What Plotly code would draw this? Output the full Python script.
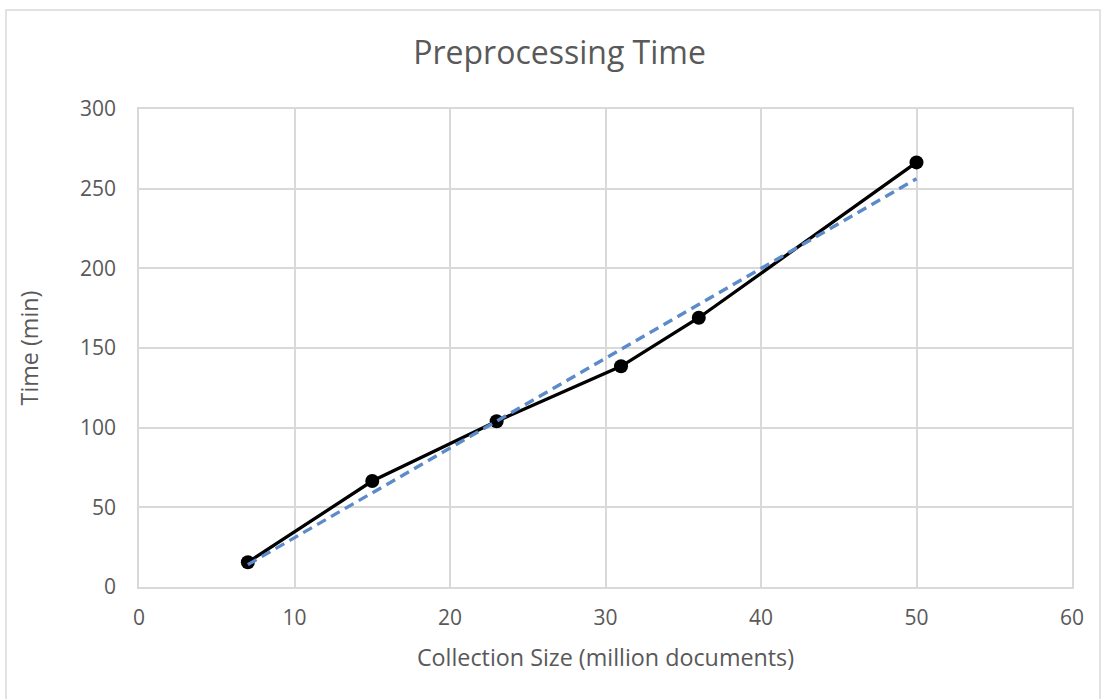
import numpy as np
import plotly.graph_objects as go

# Collection size (million documents) vs preprocessing time (minutes)
collection_size = [7, 15, 23, 31, 36, 50]
time_min = [15.5, 66.5, 104, 138.5, 169, 266.5]

x_ticks = [0, 10, 20, 30, 40, 50, 60]
y_ticks = [0, 50, 100, 150, 200, 250, 300]

# Linear trendline over the measured points
slope, intercept = np.polyfit(collection_size, time_min, 1)
trend_x = [collection_size[0], collection_size[-1]]
trend_y = [slope * v + intercept for v in trend_x]

FONT = "Open Sans, Liberation Sans, sans-serif"
TEXT = "#595959"
GRID = "#d9d9d9"

fig = go.Figure()
fig.add_trace(go.Scatter(
    x=collection_size, y=time_min, mode="lines+markers",
    line=dict(color="black", width=3.3),
    marker=dict(color="black", size=14),
    showlegend=False, hoverinfo="x+y",
))
fig.add_trace(go.Scatter(
    x=trend_x, y=trend_y, mode="lines",
    line=dict(color="#5b8bc8", width=3.3, dash="10px,6px"),
    showlegend=False, hoverinfo="skip",
))

fig.update_layout(
    width=1108, height=699,
    margin=dict(l=139, r=36, t=109, b=112),
    paper_bgcolor="white", plot_bgcolor="white",
    font=dict(family=FONT, color=TEXT, size=21),
    title=dict(text="Preprocessing Time", x=0.505, xanchor="center",
               y=0.924, yanchor="middle",
               font=dict(size=32, color=TEXT, family=FONT)),
    xaxis=dict(
        range=[0, 60], tickvals=x_ticks, ticktext=[str(v) for v in x_ticks],
        showgrid=True, gridcolor=GRID, gridwidth=1.5,
        showline=True, linecolor=GRID, linewidth=1.5, mirror=True,
        zeroline=False, ticks="", ticklen=0, ticklabelstandoff=11,
        title=dict(text="Collection Size (million documents)",
                   font=dict(size=23.3, color=TEXT), standoff=20),
        tickfont=dict(size=21, color=TEXT),
    ),
    yaxis=dict(
        range=[0, 300], tickvals=y_ticks, ticktext=[str(v) for v in y_ticks],
        showgrid=True, gridcolor=GRID, gridwidth=1.5,
        showline=True, linecolor=GRID, linewidth=1.5, mirror=True,
        zeroline=False, ticks="", ticklen=0, ticklabelstandoff=17,
        title=dict(text="Time (min)", font=dict(size=23.3, color=TEXT), standoff=35),
        tickfont=dict(size=21, color=TEXT),
    ),
    shapes=[dict(type="rect", xref="paper", yref="paper",
                 x0=-133 / 933, x1=1 + 28 / 933, y0=-0.3, y1=1 + 99 / 478,
                 line=dict(color=GRID, width=1.5), fillcolor="rgba(0,0,0,0)",
                 layer="below")],
)

fig.write_html("out.html")
